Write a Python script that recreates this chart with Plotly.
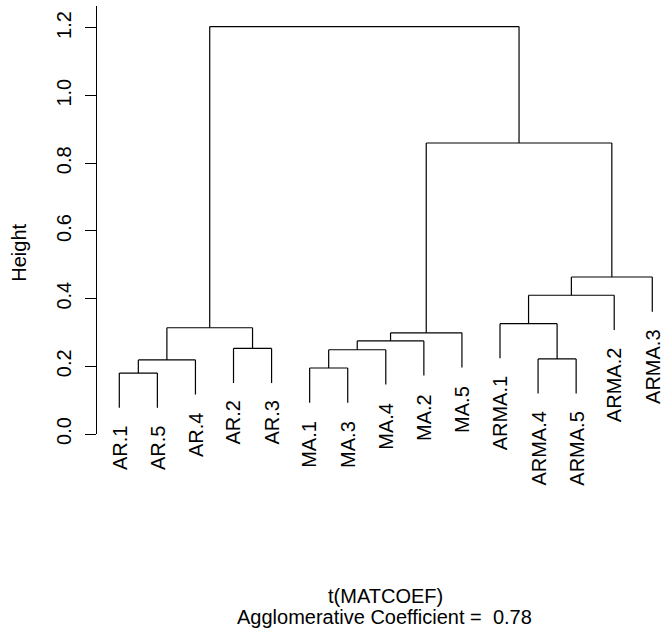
import plotly.graph_objects as go

# ---- data ----
leaf_labels = ["AR.1", "AR.5", "AR.4", "AR.2", "AR.3",
               "MA.1", "MA.3", "MA.4", "MA.2", "MA.5",
               "ARMA.1", "ARMA.4", "ARMA.5", "ARMA.2", "ARMA.3"]
# R-style merge matrix: negative = leaf (1-based position in leaf_labels), positive = earlier merge
merge_left = [-1, -6, 1, -12, 2, -4, 5, 7, 3, -11, 10, 11, 8, 9]
merge_right = [-2, -7, -3, -13, -8, -5, -9, -10, 6, 4, -14, -15, 12, 13]
merge_height = [0.180, 0.195, 0.219, 0.222, 0.249, 0.253, 0.275, 0.299,
                0.314, 0.326, 0.410, 0.464, 0.860, 1.204]
y_tick_vals = [0.0, 0.2, 0.4, 0.6, 0.8, 1.0, 1.2]
y_tick_text = ["0.0", "0.2", "0.4", "0.6", "0.8", "1.0", "1.2"]
x_title = "t(MATCOEF)"
sub_title = "Agglomerative Coefficient =\u00a0 0.78"
y_title = "Height"
hang_frac = 0.1

# ---- layout geometry (pixels) ----
W, H = 663, 639
L, R, T, B = 97, 663, 6, 434.5
FONT = "Liberation Sans, Arial, Helvetica, sans-serif"
FS = 20

n = len(leaf_labels)
hang = hang_frac * (max(merge_height) - min(merge_height))

# compute node positions
node_x = {}
xs, ys = [], []
leaf_bottom = {}
for k, (a, b, h) in enumerate(zip(merge_left, merge_right, merge_height), start=1):
    child_x = []
    for c in (a, b):
        if c < 0:
            cx = -c
            leaf_bottom[cx] = h - hang
            xs += [cx, cx, None]
            ys += [h - hang, h, None]
        else:
            cx = node_x[c]
            ch = merge_height[c - 1]
            xs += [cx, cx, None]
            ys += [ch, h, None]
        child_x.append(cx)
    xs += [child_x[0], child_x[1], None]
    ys += [h, h, None]
    node_x[k] = (child_x[0] + child_x[1]) / 2

fig = go.Figure()
fig.add_trace(go.Scatter(x=xs, y=ys, mode="lines",
                         line=dict(color="black", width=1.2),
                         hoverinfo="skip", showlegend=False))

# x-range mapping: leaf 1 at px 119.3, spacing 38.07
x0px, dx = 119.3, 38.07
xr = [1 + (L - x0px) / dx, 1 + (R - x0px) / dx]
ytop = (B - T) / 338.75

annotations = []
for i, lab in enumerate(leaf_labels, start=1):
    annotations.append(dict(x=i, y=leaf_bottom[i], xref="x", yref="y",
                            text=lab, showarrow=False, textangle=-90,
                            xanchor="center", yanchor="top", yshift=-16,
                            font=dict(family=FONT, size=FS, color="black")))

def px2paper(px, py):
    return (px - L) / (R - L), (B - py) / (B - T)

hx, hy = px2paper(19, 253)
annotations.append(dict(x=hx, y=hy, xref="paper", yref="paper", text=y_title,
                        showarrow=False, textangle=-90, xanchor="center", yanchor="middle",
                        font=dict(family=FONT, size=FS, color="black")))
tx, ty = px2paper(385.5, 597)
annotations.append(dict(x=tx, y=ty, xref="paper", yref="paper", text=x_title,
                        showarrow=False, xanchor="center", yanchor="middle",
                        font=dict(family=FONT, size=FS, color="black")))
sx, sy = px2paper(384, 618)
annotations.append(dict(x=sx, y=sy, xref="paper", yref="paper", text=sub_title,
                        showarrow=False, xanchor="center", yanchor="middle",
                        font=dict(family=FONT, size=FS, color="black")))

fig.update_layout(
    width=W, height=H,
    margin=dict(l=L, r=W - R, t=T, b=H - B, pad=0),
    paper_bgcolor="white", plot_bgcolor="white",
    xaxis=dict(range=xr, visible=False, fixedrange=True),
    yaxis=dict(range=[0, ytop], tickvals=y_tick_vals, ticktext=y_tick_text,
               tickangle=-90, showline=True, linecolor="black", linewidth=1,
               ticks="outside", ticklen=11, tickcolor="black", tickwidth=1,
               ticklabelstandoff=6, showgrid=False, zeroline=False,
               tickfont=dict(family=FONT, size=FS, color="black"),
               fixedrange=True),
    annotations=annotations,
    font=dict(family=FONT, size=FS, color="black"),
)

fig.write_html("out.html", config={"displayModeBar": False})
